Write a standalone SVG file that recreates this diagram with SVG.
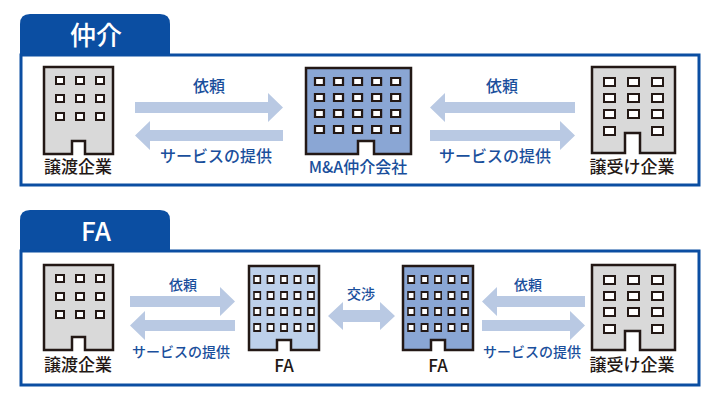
<svg xmlns="http://www.w3.org/2000/svg" width="720" height="400" viewBox="0 0 720 400">
<style>
.frame{fill:#fff;stroke:#0b4ea2;stroke-width:3}
.tab{fill:#0b4ea2}
.tabt{font-family:"Noto Sans CJK JP","Noto Sans",sans-serif;font-size:26px;fill:#fff;text-anchor:middle;font-weight:500}
.bl{stroke:#231815;stroke-width:2.5}
.win{fill:#fff;stroke:#231815;stroke-width:2}
.lab{font-family:"Noto Sans CJK JP",sans-serif;font-size:17px;fill:#231815;text-anchor:middle;font-weight:500}
.blu{font-family:"Noto Sans CJK JP",sans-serif;font-size:16px;fill:#1a4f9c;text-anchor:middle;font-weight:500}
.blus{font-family:"Noto Sans CJK JP",sans-serif;font-size:14px;fill:#1a4f9c;text-anchor:middle;font-weight:500}
.arr{fill:#b9c9e3}
</style>
<defs>
<g id="w3x3" class="win">
<rect x="0" y="0" width="8" height="7"/><rect x="20" y="0" width="8" height="7"/><rect x="40" y="0" width="8" height="7"/>
</g>
<g id="w5" class="win">
<rect x="0" y="0" width="8" height="7"/><rect x="17" y="0" width="8" height="7"/><rect x="34" y="0" width="8" height="7"/><rect x="51" y="0" width="8" height="7"/><rect x="68" y="0" width="8" height="7"/>
</g>
</defs>
<g id="tab1"><path class="tab" d="M20 55 V24 Q20 14 30 14 H160 Q170 14 170 24 V55 Z"/><text class="tabt" x="96" y="45">仲介</text></g>
<rect class="frame" x="21" y="55" width="678" height="130"/>
<g id="tab2"><path class="tab" d="M20 251 V220 Q20 210 30 210 H160 Q170 210 170 220 V251 Z"/><text class="tabt" x="96" y="241">FA</text></g>
<rect class="frame" x="21" y="251" width="678" height="134"/>

<g id="connectors">
<path class="arr" d="M135 102 H268 V93 L283 107.5 L268 122 V113 H135 Z"/>
<path class="arr" d="M283 130 H150 V121 L135 135.5 L150 150 V141 H283 Z"/>
<path class="arr" d="M575 102 H445 V93 L430 107.5 L445 122 V113 H575 Z"/>
<path class="arr" d="M430 130 H560 V121 L575 135.5 L560 150 V141 H430 Z"/>
<path class="arr" d="M130 296 H220 V287 L235 301.5 L220 316 V307 H130 Z"/>
<path class="arr" d="M235 320 H145 V311 L130 325.5 L145 340 V331 H235 Z"/>
<path class="arr" d="M585 296 H497 V287 L482 301.5 L497 316 V307 H585 Z"/>
<path class="arr" d="M482 320 H570 V311 L585 325.5 L570 340 V331 H482 Z"/>
<path class="arr" d="M328 316 L343 302 V310 H380 V302 L395 316 L380 330 V322 H343 V330 Z"/>
<text class="blu" x="209" y="92">依頼</text>
<text class="blu" x="216" y="162">サービスの提供</text>
<text class="blu" x="502" y="92">依頼</text>
<text class="blu" x="495" y="162">サービスの提供</text>
<text class="blus" x="183" y="290">依頼</text>
<text class="blus" x="181" y="357">サービスの提供</text>
<text class="blus" x="361" y="299">交渉</text>
<text class="blus" x="528" y="290">依頼</text>
<text class="blus" x="532" y="357">サービスの提供</text>
</g>

<g id="seller1">
<path class="bl" fill="#d9d9d9" d="M44 67 H113 V154 H85 V141 H72 V154 H44 Z"/>
<use href="#w3x3" x="56" y="77"/><use href="#w3x3" x="56" y="95"/><use href="#w3x3" x="56" y="113"/>
<text class="lab" x="78" y="173">譲渡企業</text>
</g>
<g id="ma">
<path class="bl" fill="#8aa6d4" d="M306 68 H411 V154 H374 V141 H358 V154 H306 Z"/>
<g transform="translate(315,78) scale(1.12,1)"><use href="#w5" y="0"/><use href="#w5" y="16"/><use href="#w5" y="32"/><use href="#w5" y="48"/></g>
<text class="blu" x="358" y="173">M&amp;A仲介会社</text>
</g>
<g id="buyer1">
<path class="bl" fill="#d9d9d9" d="M592 67 H675 V153 H640 V133 H625 V153 H592 Z"/>
<g class="win"><rect x="604" y="78" width="11" height="8"/><rect x="628" y="78" width="11" height="8"/><rect x="652" y="78" width="11" height="8"/>
<rect x="604" y="94" width="11" height="8"/><rect x="628" y="94" width="11" height="8"/><rect x="652" y="94" width="11" height="8"/>
<rect x="604" y="110" width="11" height="8"/><rect x="628" y="110" width="11" height="8"/><rect x="652" y="110" width="11" height="8"/>
<rect x="604" y="127" width="11" height="8"/><rect x="652" y="127" width="11" height="8"/></g>
<text class="lab" x="632" y="173">譲受け企業</text>
</g>

<g id="seller2">
<path class="bl" fill="#d9d9d9" d="M44 265 H113 V350 H85 V337 H72 V350 H44 Z"/>
<use href="#w3x3" x="56" y="275"/><use href="#w3x3" x="56" y="293"/><use href="#w3x3" x="56" y="311"/>
<text class="lab" x="78" y="371">譲渡企業</text>
</g>
<g id="fa1">
<path class="bl" fill="#bdd0ea" d="M249 266 H319 V350 H291 V340 H277 V350 H249 Z"/>
<g transform="translate(254,276) scale(0.79,1)"><use href="#w5" y="0"/><use href="#w5" y="16"/><use href="#w5" y="32"/><use href="#w5" y="48"/></g>
<text class="lab" x="284" y="372">FA</text>
</g>
<g id="fa2">
<path class="bl" fill="#8aa6d4" d="M403 266 H473 V350 H445 V340 H431 V350 H403 Z"/>
<g transform="translate(408,276) scale(0.79,1)"><use href="#w5" y="0"/><use href="#w5" y="16"/><use href="#w5" y="32"/><use href="#w5" y="48"/></g>
<text class="lab" x="438" y="372">FA</text>
</g>
<g id="buyer2">
<path class="bl" fill="#d9d9d9" d="M592 265 H675 V350 H640 V331 H625 V350 H592 Z"/>
<g class="win"><rect x="604" y="276" width="11" height="8"/><rect x="628" y="276" width="11" height="8"/><rect x="652" y="276" width="11" height="8"/>
<rect x="604" y="292" width="11" height="8"/><rect x="628" y="292" width="11" height="8"/><rect x="652" y="292" width="11" height="8"/>
<rect x="604" y="308" width="11" height="8"/><rect x="628" y="308" width="11" height="8"/><rect x="652" y="308" width="11" height="8"/>
<rect x="604" y="325" width="11" height="8"/><rect x="652" y="325" width="11" height="8"/></g>
<text class="lab" x="632" y="371">譲受け企業</text>
</g>
</svg>
